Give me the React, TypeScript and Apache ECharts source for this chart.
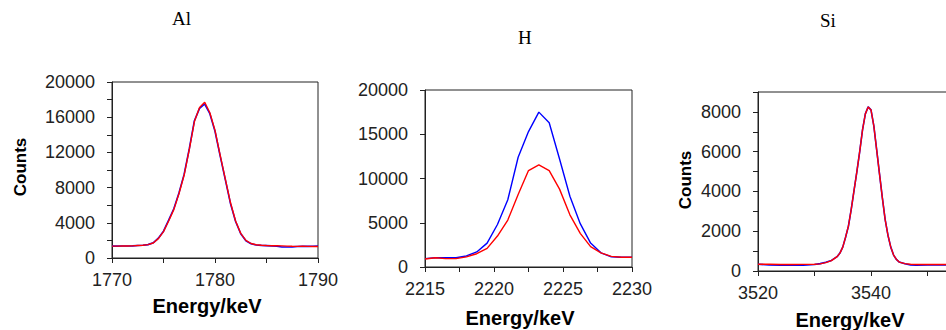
import React, { useEffect, useRef } from "react";
import * as echarts from "echarts";

// ---- Al panel ----
const alEnergy = [1770, 1770.5, 1771, 1771.5, 1772, 1772.5, 1773, 1773.5, 1774, 1774.5, 1775, 1775.5, 1776, 1776.5, 1777, 1777.5, 1778, 1778.5, 1779, 1779.5, 1780, 1780.5, 1781, 1781.5, 1782, 1782.5, 1783, 1783.5, 1784, 1784.5, 1785, 1785.5, 1786, 1786.5, 1787, 1787.5, 1788, 1788.5, 1789, 1789.5, 1790];
const alBlue = [1350, 1350, 1360, 1370, 1380, 1420, 1450, 1520, 1720, 2250, 3050, 4300, 5600, 7400, 9500, 12400, 15600, 17000, 17500, 16400, 14400, 11600, 8900, 6200, 4150, 2750, 1950, 1620, 1480, 1440, 1410, 1380, 1340, 1250, 1250, 1260, 1300, 1330, 1320, 1330, 1350];
const alRed = [1350, 1350, 1360, 1370, 1380, 1420, 1450, 1520, 1700, 2200, 3000, 4200, 5500, 7300, 9400, 12300, 15500, 17100, 17700, 16500, 14500, 11700, 9000, 6300, 4200, 2800, 2000, 1650, 1500, 1450, 1420, 1400, 1400, 1380, 1350, 1330, 1320, 1330, 1320, 1310, 1300];

// ---- H panel ----
const hEnergy = [2215, 2215.75, 2216.5, 2217.25, 2218, 2218.75, 2219.5, 2220.25, 2221, 2221.75, 2222.5, 2223.25, 2224, 2224.75, 2225.5, 2226.25, 2227, 2227.75, 2228.5, 2229.25, 2230];
const hBlue = [950, 1050, 1050, 1050, 1250, 1700, 2700, 4800, 7600, 12400, 15300, 17500, 16300, 12200, 8000, 4900, 2700, 1600, 1150, 1100, 1100];
const hRed = [900, 1050, 950, 950, 1150, 1500, 2100, 3500, 5300, 8200, 10900, 11550, 10900, 8800, 5900, 3800, 2300, 1600, 1200, 1100, 1100];

// ---- Si panel ----
const siEnergy = [3520, 3522, 3524, 3526, 3528, 3530, 3531, 3532, 3533, 3534, 3534.5, 3535, 3535.5, 3536, 3536.5, 3537, 3537.5, 3538, 3538.5, 3539, 3539.5, 3540, 3540.5, 3541, 3541.5, 3542, 3542.5, 3543, 3543.5, 3544, 3544.5, 3545, 3546, 3547, 3548, 3550, 3552, 3554, 3556, 3558, 3560];
const siBlue = [340, 300, 290, 300, 290, 330, 370, 440, 530, 720, 900, 1200, 1700, 2250, 3100, 4050, 5000, 6000, 7100, 7900, 8250, 8100, 7300, 6100, 4900, 3700, 2600, 1800, 1200, 800, 580, 450, 360, 300, 290, 300, 310, 300, 320, 310, 320];
const siRed = [340, 340, 330, 330, 335, 340, 360, 420, 520, 720, 900, 1200, 1700, 2250, 3100, 4050, 5000, 6000, 7100, 7900, 8250, 8100, 7300, 6100, 4900, 3700, 2600, 1800, 1200, 800, 580, 450, 370, 340, 330, 330, 330, 330, 320, 320, 320];

const titles = ["Al", "H", "Si"];

const pair = (xs: number[], ys: number[]) => xs.map((x, i) => [x, ys[i]]);

const AXIS = "#222";
const FONT = "Liberation Sans, Arial, sans-serif";

function xAxis(grid: number, min: number, max: number, tickStep: number, labelStep: number, showMax: boolean) {
  return {
    type: "value",
    gridIndex: grid,
    min,
    max,
    interval: tickStep,
    axisLine: { show: true, lineStyle: { color: AXIS, width: 1 } },
    axisTick: { show: true, length: 5, lineStyle: { color: AXIS } },
    splitLine: { show: false },
    axisLabel: {
      color: "#222",
      fontFamily: FONT,
      fontSize: 18,
      margin: 13,
      showMaxLabel: showMax,
      formatter: (v: number) =>
        Math.abs((v - min) % labelStep) < 1e-6 && (showMax || v < max) ? String(v) : "",
    },
  };
}

function yAxis(grid: number, max: number, tickStep: number, labelStep: number) {
  return {
    type: "value",
    gridIndex: grid,
    min: 0,
    max,
    interval: tickStep,
    axisLine: { show: true, lineStyle: { color: AXIS, width: 1 } },
    axisTick: { show: true, length: 5, lineStyle: { color: AXIS } },
    splitLine: { show: false },
    axisLabel: {
      color: "#222",
      fontFamily: FONT,
      fontSize: 18,
      margin: 17,
      formatter: (v: number) => (Math.abs(v % labelStep) < 1e-6 ? String(v) : ""),
    },
  };
}

function line(grid: number, data: number[][], color: string, width: number) {
  return {
    type: "line",
    xAxisIndex: grid,
    yAxisIndex: grid,
    data,
    showSymbol: false,
    symbol: "none",
    lineStyle: { color, width },
    z: color === "#ff0000" ? 3 : 2,
  };
}

export default function App() {
  const ref = useRef<HTMLDivElement>(null);
  useEffect(() => {
    if (!ref.current) return;
    const chart = echarts.init(ref.current, undefined, { renderer: "svg" });
    const titleStyle = { fill: "#000", fontFamily: "Liberation Serif, Times New Roman, serif", fontSize: 19 };
    const nameStyle = { fill: "#000", fontFamily: FONT, fontSize: 17, fontWeight: "bold" };
    const gridBase = { show: true, borderColor: AXIS, borderWidth: 1, backgroundColor: "transparent", outerBoundsMode: "none", containLabel: false };
    chart.setOption({
      animation: false,
      backgroundColor: "#fff",
      grid: [
        { ...gridBase, left: 112, top: 82, width: 206, height: 176 },
        { ...gridBase, left: 425, top: 90, width: 207, height: 177 },
        { ...gridBase, left: 758, top: 92, width: 226, height: 179 },
      ],
      xAxis: [
        xAxis(0, 1770, 1790, 5, 10, true),
        xAxis(1, 2215, 2230, 2.5, 5, true),
        xAxis(2, 3520, 3560, 10, 20, false),
      ],
      yAxis: [
        yAxis(0, 20000, 2000, 4000),
        yAxis(1, 20000, 5000, 5000),
        yAxis(2, 9000, 1000, 2000),
      ],
      series: [
        line(0, pair(alEnergy, alBlue), "#0000ff", 1.6),
        line(0, pair(alEnergy, alRed), "#ff0000", 1.4),
        line(1, pair(hEnergy, hBlue), "#0000ff", 1.4),
        line(1, pair(hEnergy, hRed), "#ff0000", 1.4),
        line(2, pair(siEnergy, siBlue), "#0000ff", 1.6),
        line(2, pair(siEnergy, siRed), "#ff0000", 1.4),
      ],
      graphic: [
        { type: "text", left: 172, top: 9, style: { ...titleStyle, text: titles[0] } },
        { type: "text", left: 518, top: 28, style: { ...titleStyle, text: titles[1] } },
        { type: "text", left: 820, top: 11, style: { ...titleStyle, text: titles[2] } },
        { type: "text", x: 207, y: 306, style: { ...nameStyle, fontSize: 20, text: "Energy/keV", align: "center", verticalAlign: "middle" } },
        { type: "text", x: 520, y: 318, style: { ...nameStyle, fontSize: 20, text: "Energy/keV", align: "center", verticalAlign: "middle" } },
        { type: "text", x: 850, y: 320, style: { ...nameStyle, fontSize: 20, text: "Energy/keV", align: "center", verticalAlign: "middle" } },
        { type: "text", x: 20, y: 167, rotation: Math.PI / 2, style: { ...nameStyle, text: "Counts", align: "center", verticalAlign: "middle" } },
        { type: "text", x: 685, y: 180, rotation: Math.PI / 2, style: { ...nameStyle, text: "Counts", align: "center", verticalAlign: "middle" } },
      ],
    });
    return () => chart.dispose();
  }, []);
  return <div ref={ref} style={{ position: "absolute", left: 0, top: 0, width: 946, height: 330 }} />;
}
